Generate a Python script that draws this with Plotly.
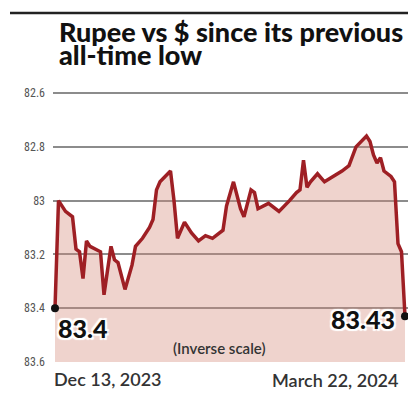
import plotly.graph_objects as go

# ---- data ----
dates = [
    "2023-12-13", "2023-12-14", "2023-12-16", "2023-12-18", "2023-12-19", "2023-12-20",
    "2023-12-21", "2023-12-22", "2023-12-23", "2023-12-26", "2023-12-27", "2023-12-29",
    "2023-12-30", "2023-12-31", "2024-01-02", "2024-01-04", "2024-01-05", "2024-01-07",
    "2024-01-09", "2024-01-10", "2024-01-11", "2024-01-12", "2024-01-15", "2024-01-16",
    "2024-01-17", "2024-01-19", "2024-01-21", "2024-01-23", "2024-01-25", "2024-01-27",
    "2024-01-30", "2024-01-31", "2024-02-02", "2024-02-04", "2024-02-05", "2024-02-07",
    "2024-02-08", "2024-02-09", "2024-02-12", "2024-02-13", "2024-02-15", "2024-02-18",
    "2024-02-20", "2024-02-21", "2024-02-22", "2024-02-23", "2024-02-24", "2024-02-26",
    "2024-02-28", "2024-03-04", "2024-03-06", "2024-03-08", "2024-03-11", "2024-03-12",
    "2024-03-13", "2024-03-14", "2024-03-15", "2024-03-16", "2024-03-18", "2024-03-19",
    "2024-03-20", "2024-03-21", "2024-03-22",
]
rupee = [
    83.40, 83.00, 83.04, 83.06, 83.18, 83.19,
    83.29, 83.15, 83.17, 83.19, 83.35, 83.17,
    83.22, 83.23, 83.33, 83.24, 83.17, 83.14,
    83.10, 83.07, 82.96, 82.93, 82.89, 83.00,
    83.14, 83.08, 83.12, 83.15, 83.13, 83.14,
    83.11, 83.02, 82.93, 83.03, 83.06, 82.96,
    82.97, 83.03, 83.01, 83.02, 83.04, 83.00,
    82.97, 82.96, 82.85, 82.95, 82.93, 82.90,
    82.93, 82.89, 82.87, 82.80, 82.76, 82.78,
    82.83, 82.86, 82.84, 82.89, 82.91, 82.93,
    83.16, 83.19, 83.43,
]
y_ticks = [82.6, 82.8, 83.0, 83.2, 83.4, 83.6]
y_labels = ["82.6", "82.8", "83", "83.2", "83.4", "83.6"]
first_label = "83.4"
last_label = "83.43"
start_text = "Dec 13, 2023"
end_text = "March 22, 2024"
title_1 = "Rupee vs $ since its previous"
title_2 = "all-time low"
note = "(Inverse scale)"

W, H = 408, 395
ML, MR, MT, MB = 53, 0, 92, 33
PW, PH = W - ML - MR, H - MT - MB


def px(x):
    return (x - ML) / PW


def py(y):
    return (H - MB - y) / PH


y_bottom = y_ticks[-1]

fig = go.Figure()
fig.add_trace(go.Scatter(
    x=dates, y=[y_bottom] * len(dates), mode="lines",
    line=dict(width=0), hoverinfo="skip", showlegend=False,
))
fig.add_trace(go.Scatter(
    x=dates, y=rupee, mode="lines", fill="tonexty",
    fillcolor="rgba(212,136,120,0.37)",
    line=dict(color="#9E1F24", width=3.5), showlegend=False,
))
fig.add_trace(go.Scatter(
    x=[dates[0], dates[-1]], y=[rupee[0], rupee[-1]], mode="markers",
    marker=dict(color="#111", size=8), showlegend=False, cliponaxis=False,
))

label_font = dict(family="Lato", size=25, color="#111", weight=900,
                  shadow="2px 2px 1px white, -2px -2px 1px white, 2px -2px 1px white, -2px 2px 1px white")
title_font = dict(family="Lato", size=27, color="#111", weight=900)

annotations = [
    dict(text=title_1, xref="paper", yref="paper", x=px(57), y=py(32),
         xanchor="left", yanchor="middle", showarrow=False, font=title_font),
    dict(text=title_2, xref="paper", yref="paper", x=px(57), y=py(55),
         xanchor="left", yanchor="middle", showarrow=False, font=title_font),
    dict(text=first_label, xref="x", yref="y", x=dates[0], y=rupee[0],
         xanchor="left", yanchor="middle", xshift=1, yshift=-20, showarrow=False,
         font=label_font),
    dict(text=last_label, xref="x", yref="y", x=dates[-1], y=rupee[-1],
         xanchor="right", yanchor="middle", xshift=-8, yshift=-3, showarrow=False,
         font=label_font),
    dict(text=note, xref="paper", yref="paper", x=px(219), y=py(348),
         xanchor="center", yanchor="middle", showarrow=False,
         font=dict(family="Lato", size=15, color="#333", weight=600)),
    dict(text=start_text, xref="paper", yref="paper", x=px(52), y=py(379),
         xanchor="left", yanchor="middle", showarrow=False,
         font=dict(family="Lato", size=18, color="#333", weight=600)),
    dict(text=end_text, xref="paper", yref="paper", x=px(400), y=py(380),
         xanchor="right", yanchor="middle", showarrow=False,
         font=dict(family="Lato", size=18, color="#333", weight=600)),
]

fig.update_layout(
    width=W, height=H,
    margin=dict(l=ML, r=MR, t=MT, b=MB, pad=0),
    paper_bgcolor="white", plot_bgcolor="white",
    annotations=annotations,
    shapes=[dict(type="line", xref="paper", yref="paper",
                 x0=px(10), x1=px(408), y0=py(13), y1=py(13),
                 line=dict(color="#222", width=2.5))],
    xaxis=dict(range=["2023-12-12 10:18", "2024-03-22 20:38"], showgrid=False,
               showticklabels=False, zeroline=False, showline=False, ticks=""),
    yaxis=dict(range=[83.6, 82.596], tickvals=y_ticks, ticktext=y_labels,
               showgrid=True, gridcolor="#8c8c8c", gridwidth=2, zeroline=False,
               showline=False, ticks="", ticklabelstandoff=7,
               tickfont=dict(family="Liberation Sans Narrow, Roboto Condensed, Lato", size=12, color="#555")),
)

fig.write_html("out.html")
